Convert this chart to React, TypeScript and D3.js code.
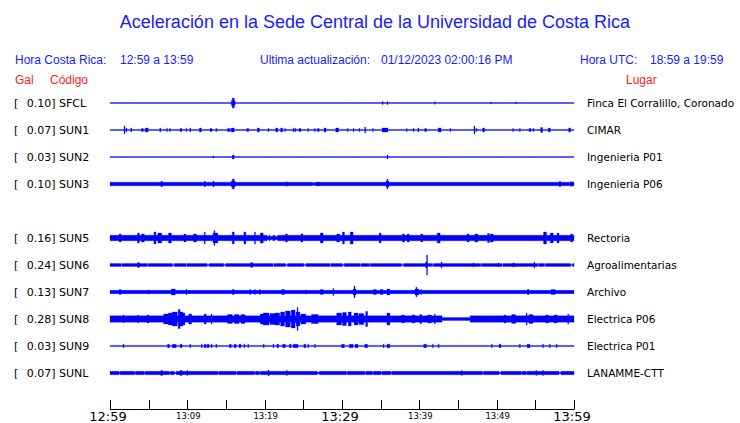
import React from "react";
import * as d3 from "d3";

// ---------- data ----------
const stations = ["SFCL", "SUN1", "SUN2", "SUN3", "SUN5", "SUN6", "SUN7", "SUN8", "SUN9", "SUNL"];
const peaksGal = ["0.10", "0.07", "0.03", "0.10", "0.16", "0.24", "0.13", "0.28", "0.03", "0.07"];
const places = [
  "Finca El Corralillo, Coronado",
  "CIMAR",
  "Ingenieria P01",
  "Ingenieria P06",
  "Rectoria",
  "Agroalimentarias",
  "Archivo",
  "Electrica P06",
  "Electrica P01",
  "LANAMME-CTT",
];
// row slot of each station (slot 4 is empty)
const rowSlots = [0, 1, 2, 3, 5, 6, 7, 8, 9, 10];

// base half-amplitude of each trace (relative units)
const baseAmp = [0.5, 0.5, 0.5, 1.8, 2.8, 1.5, 1.7, 3.2, 0.6, 1.7];

// events: [minute after 12:59, half-amplitude, width in minutes]
const evSFCL = [[15.95, 5, 0.15], [15.95, 2.5, 0.55], [35.3, 1.5, 0.15], [35.9, 1.5, 0.15], [42.0, 1.2, 0.15], [49.2, 1, 0.15], [52.5, 1, 0.15]];
const evSUN1 = [[1.85, 4, 0.15], [2.16, 2, 0.15], [2.72, 2, 0.15], [4.18, 1.5, 0.15], [4.74, 2, 0.4], [6.55, 2, 0.15], [7.41, 1.5, 0.15], [7.76, 1.5, 0.15], [9.18, 1.5, 0.15], [9.91, 1.5, 0.15], [10.35, 2, 0.15], [11.72, 2, 0.3], [13.06, 1.5, 0.15], [13.71, 1.5, 0.15], [15.22, 1.5, 0.15], [15.43, 1.5, 0.15], [15.91, 2, 0.4], [17.8, 1.5, 0.15], [19.18, 2, 0.2], [20.47, 1.5, 0.15], [21.55, 2, 0.3], [22.2, 2, 0.15], [22.63, 1.5, 0.15], [23.71, 2, 0.15], [24.01, 1.5, 0.15], [24.57, 1.5, 0.15], [25.65, 1.5, 0.15], [26.51, 1.5, 0.15], [26.94, 1.5, 0.15], [27.8, 2, 0.2], [29.4, 2, 0.3], [30.73, 1.5, 0.15], [31.47, 1.5, 0.15], [32.2, 1.5, 0.15], [32.98, 3, 0.15], [34.05, 1.5, 0.15], [35.56, 2, 0.7], [38.36, 1.5, 0.15], [39.23, 1.5, 0.15], [39.87, 2, 0.2], [40.82, 1.5, 0.15], [42.67, 2, 0.4], [43.97, 1.5, 0.15], [47.11, 4, 0.15], [47.42, 1.5, 0.15], [48.28, 2, 0.3], [52.16, 1.5, 0.15], [53.02, 1.5, 0.15], [54.31, 1.5, 0.15], [54.74, 1.5, 0.15], [55.82, 2.5, 0.15], [56.77, 2, 0.25], [59.44, 2, 0.25]];
const evSUN2 = [[13.36, 1, 0.15], [15.95, 2, 0.35], [35.9, 2, 0.15]];
const evSUN3 = [[6.68, 2.7, 0.3], [12.28, 3, 0.15], [13.36, 3, 0.15], [15.95, 5, 0.15], [15.95, 3, 0.4], [22.84, 2.3, 0.15], [26.29, 1.2, 0.3], [26.94, 2, 0.15], [35.9, 5, 0.15], [35.9, 3, 0.3], [58.19, 2.5, 0.15], [59.7, 2.3, 0.3]];
const evSUN5 = [[1.29, 4, 0.3], [3.66, 5, 0.2], [4.3, 4, 0.4], [5.82, 6, 0.2], [6.46, 5, 0.5], [7.76, 5, 0.3], [9.7, 4, 0.3], [10.99, 4, 0.3], [12.28, 6, 0.15], [13.49, 7.5, 0.2], [13.6, 5, 0.6], [15.95, 6, 0.3], [17.45, 6, 0.15], [18.75, 6, 0.15], [19.61, 5, 0.3], [20.47, 1.8, 0.3], [20.9, 1.8, 0.3], [21.5, 1.8, 0.3], [22.84, 4, 0.2], [24.78, 4, 0.3], [27.37, 5, 0.3], [29.52, 4, 0.4], [30.17, 6, 0.2], [31.25, 6, 0.4], [34.91, 5, 0.3], [37.93, 4, 0.3], [38.57, 4, 0.3], [40.3, 4, 0.2], [42.45, 5, 0.4], [46.33, 4, 0.3], [47.4, 4, 0.3], [48.92, 4.5, 0.3], [49.35, 4, 0.3], [56.25, 6, 0.3], [57.11, 5, 0.4], [57.97, 5, 0.2], [59.7, 4, 0.3]];
const evSUN6 = [[3.66, 2.5, 0.3], [1.5, 0.6, 0.15], [4.9, 0.6, 0.15], [8.2, 0.6, 0.15], [9.9, 0.6, 0.15], [12.7, 0.6, 0.15], [14.8, 0.6, 0.2], [18.3, 2.5, 0.15], [21.1, 0.6, 0.15], [22.8, 0.6, 0.15], [25.2, 0.6, 0.15], [28.5, 0.6, 0.15], [30.2, 0.6, 0.15], [32.4, 0.6, 0.15], [33.6, 0.6, 0.15], [37.8, 0.6, 0.2], [40.95, 10, 0.15], [40.95, 3, 0.3], [41.8, 0.6, 0.15], [42.9, 3, 0.2], [47.0, 2, 0.2], [48.0, 0.6, 0.2], [50.2, 2, 0.15], [50.7, 0.6, 0.15], [52.2, 2, 0.3], [54.87, 3, 0.15], [55.4, 0.6, 0.15], [56.3, 0.6, 0.15], [59.7, 0.6, 0.3]];
const evSUN7 = [[1.29, 2.5, 0.3], [4.95, 2, 0.15], [8.19, 3, 0.4], [9.91, 2.5, 0.15], [15.95, 2.5, 0.15], [18.1, 2.5, 0.15], [18.75, 2.5, 0.15], [19.4, 2.5, 0.15], [22.4, 2.5, 0.3], [25.4, 2, 0.15], [27.37, 2.5, 0.3], [28.88, 3.5, 0.15], [31.6, 6, 0.15], [31.6, 3, 0.3], [34.27, 2.5, 0.3], [35.13, 2.5, 0.3], [36.0, 3, 0.3], [39.65, 5, 0.15], [39.65, 3, 0.5], [40.3, 2.5, 0.15], [54.09, 2.5, 0.3], [57.33, 2.5, 0.5]];
const evSUN8 = [[1.72, 4, 0.15], [3.66, 4, 0.15], [4.95, 4, 0.2], [7.3, 5, 0.6], [7.76, 6, 0.5], [8.4, 7, 0.6], [8.92, 9.5, 0.2], [9.2, 7, 0.4], [9.48, 6, 0.4], [10.34, 5, 0.4], [12.28, 5, 0.2], [13.14, 5, 0.2], [15.5, 4.5, 0.5], [16.4, 4.5, 0.6], [17.2, 4.5, 0.6], [19.61, 5, 0.4], [20.2, 6, 0.7], [21.0, 5.5, 0.7], [21.6, 6, 0.6], [22.3, 7, 0.6], [23.0, 8, 0.6], [23.7, 9, 0.5], [24.27, 11.5, 0.15], [24.3, 7, 0.6], [25.0, 5, 0.6], [26.5, 4.5, 0.8], [29.6, 6, 0.6], [30.3, 6.5, 0.6], [31.03, 7, 0.4], [31.8, 6, 0.6], [32.5, 5.5, 0.5], [33.19, 7.5, 0.3], [35.99, 6, 0.3], [37.9, 4, 0.4], [39.2, 4, 0.4], [40.2, 4.5, 0.3], [42.0, 5, 0.2], [41.3, 4, 0.5], [44.7, 1.4, 3.6], [51.08, 4, 0.3], [52.2, 4.5, 0.5], [53.9, 6, 0.2], [54.4, 4.5, 0.5], [56.5, 4, 0.3], [57.6, 4, 0.3], [59.27, 5, 0.2]];
const evSUN9 = [[1.72, 1.7, 0.15], [7.6, 1.7, 0.3], [8.3, 1.7, 0.4], [9.2, 1.7, 0.2], [10.34, 1.7, 0.15], [11.85, 1.7, 0.15], [12.3, 1.7, 0.15], [12.7, 1.7, 0.2], [13.14, 1.7, 0.15], [13.79, 1.7, 0.15], [15.6, 1.7, 0.2], [16.2, 1.7, 0.3], [16.8, 1.7, 0.3], [17.4, 1.7, 0.2], [17.88, 1.7, 0.15], [19.83, 1.7, 0.15], [21.12, 1.7, 0.15], [21.7, 1.7, 0.3], [22.5, 1.7, 0.4], [23.3, 1.7, 0.3], [24.0, 1.7, 0.6], [25.2, 1.7, 0.15], [25.6, 1.7, 0.15], [26.51, 1.7, 0.15], [30.1, 1.7, 0.4], [31.2, 1.7, 0.5], [31.9, 1.7, 0.3], [33.1, 1.7, 0.4], [35.34, 1.7, 0.15], [36.0, 1.7, 0.4], [40.73, 1.7, 0.3], [41.8, 1.7, 0.15], [42.45, 1.7, 0.15], [49.35, 1.7, 0.15], [50.43, 1.7, 0.15], [53.02, 1.7, 0.15], [54.1, 1.7, 0.4], [56.03, 1.7, 0.15], [56.9, 1.7, 0.15], [57.76, 1.7, 0.15]];
const evSUNL = [[6.68, 2.5, 0.15], [9.18, 2.5, 0.15], [10.04, 2.5, 0.15], [20.47, 3, 0.15], [22.84, 2.5, 0.15], [45.47, 2.5, 0.15], [55.17, 2.5, 0.15], [56.03, 2.5, 0.15], [1.29, 0.7, 0.15], [3.23, 0.7, 0.15], [4.52, 0.7, 0.15], [7.76, 0.7, 0.2], [8.4, 0.7, 0.2], [14.0, 0.7, 0.15], [16.38, 0.7, 0.15], [18.75, 0.7, 0.15], [19.4, 0.7, 0.15], [26.94, 0.7, 0.15], [30.6, 0.7, 0.15], [32.97, 0.7, 0.15], [34.05, 0.7, 0.15], [35.13, 0.7, 0.15], [36.42, 0.7, 0.15], [48.28, 0.7, 0.15], [50.43, 0.7, 0.15], [53.23, 0.7, 0.15], [53.88, 0.7, 0.15], [58.19, 0.7, 0.3]];
const events = [evSFCL, evSUN1, evSUN2, evSUN3, evSUN5, evSUN6, evSUN7, evSUN8, evSUN9, evSUNL];

const tickMinutes = [0, 5, 10, 15, 20, 25, 30, 35, 40, 45, 50, 55, 60];
const bigLabels: Record<number, string> = { 0: "12:59", 30: "13:29", 60: "13:59" };
const smallLabels: Record<number, string> = { 10: "13:09", 20: "13:19", 40: "13:39", 50: "13:49" };

// ---------- layout ----------
const W = 740;
const H = 423;
const x = d3.scaleLinear().domain([0, 60]).range([110, 574]);
const rowY = d3.scaleLinear().domain([0, 10]).range([103, 373]);
const ampScale = d3.scaleLinear().domain([0, 1]).range([0, 1]);
const BLUE = "#0000ff";
const TBLUE = "#1a1aff";

function envelope(base: number, ev: number[][]) {
  const step = 0.125;
  const pts: { t: number; a: number }[] = [];
  for (let t = 0; t <= 60 + 1e-9; t += step) {
    let a = base;
    let quiet = false;
    for (const [t0, amp, w] of ev) {
      if (Math.abs(t - t0) <= Math.max(w / 2, step / 2)) {
        if (amp < base) {
          if (!quiet) { a = amp; quiet = true; }
        } else if (amp > a || quiet) {
          a = Math.max(amp, quiet ? amp : a);
          quiet = false;
        }
      }
    }
    pts.push({ t, a });
  }
  return pts;
}

export default function App() {
  const font = "'Liberation Sans', Arial, sans-serif";
  const dv = "'DejaVu Sans', sans-serif";
  return (
    <svg width={W} height={H} style={{ position: "absolute", left: 0, top: 0, background: "#fff" }}>
      <rect width={W} height={H} fill="#fff" />
      <text x={375} y={28} textAnchor="middle" fontFamily={font} fontSize={18} fill={TBLUE}>
        Aceleración en la Sede Central de la Universidad de Costa Rica
      </text>
      <g fontFamily={font} fontSize={12} fill={TBLUE}>
        <text x={15} y={64}>Hora Costa Rica:</text>
        <text x={120} y={64}>12:59 a 13:59</text>
        <text x={260} y={64}>Ultima actualización:</text>
        <text x={381} y={64}>01/12/2023 02:00:16 PM</text>
        <text x={580} y={64}>Hora UTC:</text>
        <text x={650} y={64}>18:59 a 19:59</text>
      </g>
      <g fontFamily={font} fontSize={12} fill="#ff2020">
        <text x={15} y={84}>Gal</text>
        <text x={50} y={84}>Código</text>
        <text x={626} y={84}>Lugar</text>
      </g>
      {stations.map((s, i) => {
        const cy = rowY(rowSlots[i]);
        const pts = envelope(baseAmp[i], events[i]);
        const area = d3
          .area<{ t: number; a: number }>()
          .x((d) => x(d.t))
          .y0((d) => cy - ampScale(d.a))
          .y1((d) => cy + ampScale(d.a))
          .curve(d3.curveStep);
        return (
          <g key={s}>
            <text x={14} y={cy + 4} fontFamily={dv} fontSize={11} fill="#000">[</text>
            <text x={55.5} y={cy + 4} textAnchor="end" fontFamily={dv} fontSize={11} fill="#000">{peaksGal[i]}]</text>
            <text x={59} y={cy + 4} fontFamily={dv} fontSize={11} fill="#000">{s}</text>
            <path d={area(pts) || ""} fill={BLUE} stroke={BLUE} strokeWidth={0.3} />
            <text x={587} y={cy + 4} fontFamily={dv} fontSize={10.5} fill="#000">{places[i]}</text>
          </g>
        );
      })}
      <g>
        <line x1={x(0)} x2={x(60)} y1={409.5} y2={409.5} stroke="#000" />
        {tickMinutes.map((m) => (
          <line key={m} x1={Math.round(x(m)) + 0.5} x2={Math.round(x(m)) + 0.5} y1={400} y2={409.5} stroke="#000" />
        ))}
        {tickMinutes.filter((m) => bigLabels[m]).map((m) => (
          <text key={"b" + m} x={x(m) - 2} y={421} textAnchor="middle" fontFamily={dv} fontSize={13} fill="#000">{bigLabels[m]}</text>
        ))}
        {tickMinutes.filter((m) => smallLabels[m]).map((m) => (
          <text key={"s" + m} x={x(m) + 1} y={418.5} textAnchor="middle" fontFamily={dv} fontSize={8.5} fill="#000">{smallLabels[m]}</text>
        ))}
      </g>
    </svg>
  );
}
